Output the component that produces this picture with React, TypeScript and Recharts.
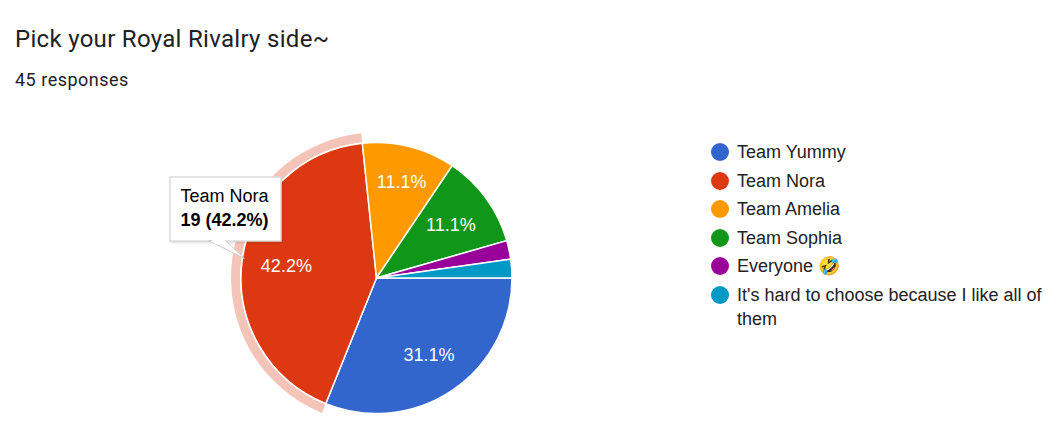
import React from "react";
import { PieChart, Pie, Cell, Legend, Tooltip } from "recharts";

const categories = ["Team Yummy", "Team Nora", "Team Amelia", "Team Sophia", "Everyone 🤣", "It's hard to choose because I like all of them"];
const counts = [14, 19, 5, 5, 1, 1];
const colors = ["#3366cc", "#dc3912", "#ff9900", "#109618", "#990099", "#0099c6"];
const total = 45;
const highlighted = 1;
const rows = categories.map((name, i) => ({ name, value: counts[i] }));

const RAD = Math.PI / 180;
const FONT = "Arial, 'Liberation Sans', sans-serif";

const renderLabel = (p: any) => {
  if (p.percent < 0.05) return null;
  const r = p.index === 2 ? 100 : 92;
  const x = p.cx + r * Math.cos(-p.midAngle * RAD) + (p.index === 3 ? 0 : 1);
  const y = p.cy + r * Math.sin(-p.midAngle * RAD) + 1;
  return (
    <text x={x} y={y} fill="#ffffff" fontSize={18} fontFamily={FONT} textAnchor="middle" dominantBaseline="central">
      {(p.percent * 100).toFixed(1)}%
    </text>
  );
};

const LegendContent = () => (
  <div style={{ fontFamily: FONT, fontSize: 18, color: "#222222" }}>
    {categories.map((name, i) => (
      <div key={name} style={{ display: "flex", alignItems: "flex-start", marginBottom: 4.6, lineHeight: "24px" }}>
        <span style={{ width: 18, height: 18, borderRadius: 9, background: colors[i], flex: "none", marginTop: 3, marginRight: 8 }} />
        <span>{name}</span>
      </div>
    ))}
  </div>
);

const TipContent = () => {
  const i = highlighted;
  return (
    <div style={{ position: "relative", width: 112, height: 65, boxSizing: "border-box", background: "#fff", border: "1px solid #cccccc", boxShadow: "0 1px 3px rgba(0,0,0,0.18)", fontFamily: FONT, fontSize: 18, color: "#000", padding: "6px 10px", lineHeight: "24px", whiteSpace: "nowrap" }}>
      <div>{categories[i]}</div>
      <div style={{ fontWeight: 700 }}>{counts[i]} ({(counts[i] / total * 100).toFixed(1)}%)</div>
      <svg width={50} height={20} style={{ position: "absolute", left: 38, top: 63, overflow: "visible" }}>
        <polygon points="0,0 36,18 17,0" fill="#ffffff" stroke="#cccccc" strokeWidth={1} />
        <rect x={1} y={-2} width={15.5} height={6} fill="#ffffff" clipPath="polygon(0 0, 100% 0, 100% 100%, 40% 100%)" />
      </svg>
    </div>
  );
};

export default function App() {
  return (
    <div style={{ position: "absolute", left: 0, top: 0, width: 1059, height: 443, background: "#fff", overflow: "hidden" }}>
      <div style={{ position: "absolute", left: 15, top: 25, fontFamily: "Roboto", fontSize: 24, letterSpacing: 0.3, color: "#202124", whiteSpace: "nowrap" }}>Pick your Royal Rivalry side~</div>
      <div style={{ position: "absolute", left: 15, top: 69, fontFamily: "Roboto", fontSize: 18, letterSpacing: 0.5, color: "#202124", whiteSpace: "nowrap" }}>45 responses</div>
      <PieChart width={1059} height={443} margin={{ top: 0, right: 0, bottom: 0, left: 0 }}>
        <Pie data={rows} dataKey="value" nameKey="name" cx={376.5} cy={278} innerRadius={136.5} outerRadius={145.5} startAngle={0} endAngle={-360} legendType="none" tooltipType="none" isAnimationActive={false} stroke="none">
          {rows.map((_, i) => <Cell key={i} fill={i === highlighted ? "#f5c4b8" : "transparent"} />)}
        </Pie>
        <Pie data={rows} dataKey="value" nameKey="name" cx={376.5} cy={278} outerRadius={135.5} startAngle={0} endAngle={-360} label={renderLabel} labelLine={false} isAnimationActive={false} stroke="#ffffff" strokeWidth={1.5}>
          {rows.map((_, i) => <Cell key={i} fill={colors[i]} />)}
        </Pie>
        <Legend layout="vertical" content={<LegendContent />} wrapperStyle={{ position: "absolute", left: 711, top: 140, width: 340 }} />
        <Tooltip defaultIndex={highlighted} active content={<TipContent />} position={{ x: 169.5, y: 176.5 }} isAnimationActive={false} allowEscapeViewBox={{ x: true, y: true }} wrapperStyle={{ outline: "none" }} />
      </PieChart>
    </div>
  );
}
